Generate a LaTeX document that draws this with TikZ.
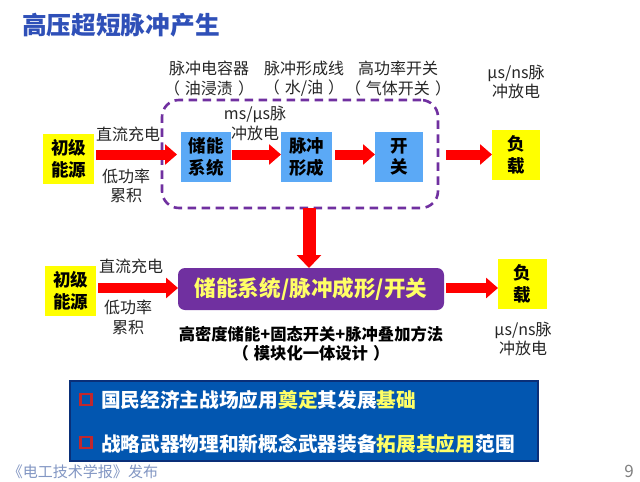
\documentclass[tikz,border=0pt]{standalone}
\usepackage{fontspec}
\setmainfont{Noto Sans CJK SC}
\usetikzlibrary{arrows.meta}
\definecolor{pur}{HTML}{7030A0}
\definecolor{bluebox}{HTML}{5BA9F6}
\definecolor{yel}{HTML}{FFFF00}
\definecolor{hl}{HTML}{FFFF66}
\definecolor{panel}{HTML}{0256B0}
\definecolor{panelb}{HTML}{0A2F78}
\definecolor{titleblue}{HTML}{2F50B8}
\newcommand{\pgap}{\hspace{5pt}}
\tikzset{
  every node/.style={inner sep=0pt,outer sep=0pt},
  yblock/.style={fill=yel,minimum width=#1,minimum height=50pt,align=center,font=\fontsize{17.5}{21.5}\selectfont\bfseries},
  yblock/.default=51pt,
  bblock/.style={fill=bluebox,minimum width=#1,minimum height=50pt,align=center,font=\fontsize{17.5}{21.5}\selectfont\bfseries},
  lab/.style={align=center,font=\fontsize{16}{19.5}\selectfont,text=black!85},
  bold lab/.style={align=center,font=\fontsize{16.3}{19.5}\selectfont\bfseries},
  line/.style={anchor=west,font=\fontsize{19.7}{24}\selectfont\bfseries,text=white},
  harrow/.style={draw=red,line width=10pt,-{Triangle[length=12pt,width=20pt]}},
  varrow/.style={draw=red,line width=13pt,-{Triangle[length=13pt,width=24pt]}},
  check/.style={draw={rgb,255:red,192;green,39;blue,45},line width=2.5pt,minimum size=11pt}
}
\begin{document}
\begin{tikzpicture}[x=1pt,y=-1pt]
\useasboundingbox[fill=white] (0,0) rectangle (640,482);
\node[font=\fontsize{24.7}{28}\selectfont\bfseries,text=titleblue] (title) at (121,25) {高压超短脉冲产生};
% top row
\node[yblock] (src1) at (68.5,159) {初级\\能源};
\node[bblock=50pt] (store) at (206,157) {储能\\系统};
\node[bblock=51pt] (form) at (306.5,157) {脉冲\\形成};
\node[bblock=48pt] (sw) at (399,157) {开\\关};
\node[yblock=48pt] (load1) at (516,155) {负\\载};
\node[draw=pur,line width=2.6pt,dash pattern=on 8.5pt off 5.5pt,rounded corners=17pt,minimum width=276pt,minimum height=108pt] (group) at (300,154) {};
\draw[harrow] ([xshift=2pt,yshift=4.5pt]src1.east) -- ([xshift=-4pt,yshift=2.5pt]store.west);
\draw[harrow] ([xshift=1pt,yshift=2.5pt]store.east) -- ([yshift=2.5pt]form.west);
\draw[harrow] ([xshift=3pt,yshift=2.5pt]form.east) -- ([yshift=2.5pt]sw.west);
\draw[harrow] ([xshift=8pt,yshift=-0.5pt]group.east) -- ([yshift=0.5pt]load1.west);
% labels top
\node[lab] (l1) at (209,78.5) {脉冲电容器\\（\pgap 油浸渍\pgap ）};
\node[lab] (l2) at (304,78.5) {脉冲形成线\\（\pgap 水/油\pgap ）};
\node[lab] (l3) at (398,78.5) {高功率开关\\（\pgap 气体开关\pgap ）};
\node[lab] (l4) at (516,82) {μs/ns脉\\冲放电};
\node[lab] (l5) at (255,123.5) {ms/μs脉\\冲放电};
\node[lab] (l6) at (128,134) {直流充电};
\node[lab] (l7) at (126,186) {低功率\\累积};
% lower row
\node[yblock] (src2) at (70.5,291) {初级\\能源};
\node[fill=pur,rounded corners=7pt,minimum width=266pt,minimum height=42pt,text=hl,font=\fontsize{21.6}{25}\selectfont\bfseries] (bar) at (311,289) {储能系统/脉冲成形/开关};
\node[yblock=49pt] (load2) at (522.5,284) {负\\载};
\draw[varrow] ([xshift=9pt]group.south) -- ([xshift=-2pt]bar.north);
\draw[harrow] ([xshift=2pt,yshift=3pt]src2.east) -- ([yshift=1pt]bar.west);
\draw[harrow] ([xshift=2pt,yshift=1pt]bar.east) -- ([yshift=-4pt]load2.west);
\node[lab] (l8) at (131,266) {直流充电};
\node[lab] (l9) at (128,317.5) {低功率\\累积};
\node[bold lab] (l10) at (311,343.5) {高密度储能+固态开关+脉冲叠加方法\\（\pgap 模块化一体设计\pgap ）};
\node[lab] (l11) at (523,339) {μs/ns脉\\冲放电};
% panel
\node[fill=panel,draw=panelb,line width=1.5pt,minimum width=468pt,minimum height=80pt] (panelbox) at (304,421) {};
\node[check] (c1) at (86,399.5) {};
\node[check] (c2) at (86,442.5) {};
\node[line] (t1) at (101,400) {国民经济主战场应用\textcolor{hl}{奠定}其发展\textcolor{hl}{基础}};
\node[line] (t2) at (101,443.5) {战略武器物理和新概念武器装备\textcolor{hl}{拓展其应用}范围};
% footer
\node[font=\fontsize{15}{18}\selectfont,text={rgb,255:red,130;green,150;blue,195}] (foot) at (83,472) {《电工技术学报》发布};
\node[font=\fontsize{17}{20}\selectfont,text=black!50] (page) at (629,471) {9};
\end{tikzpicture}
\end{document}
